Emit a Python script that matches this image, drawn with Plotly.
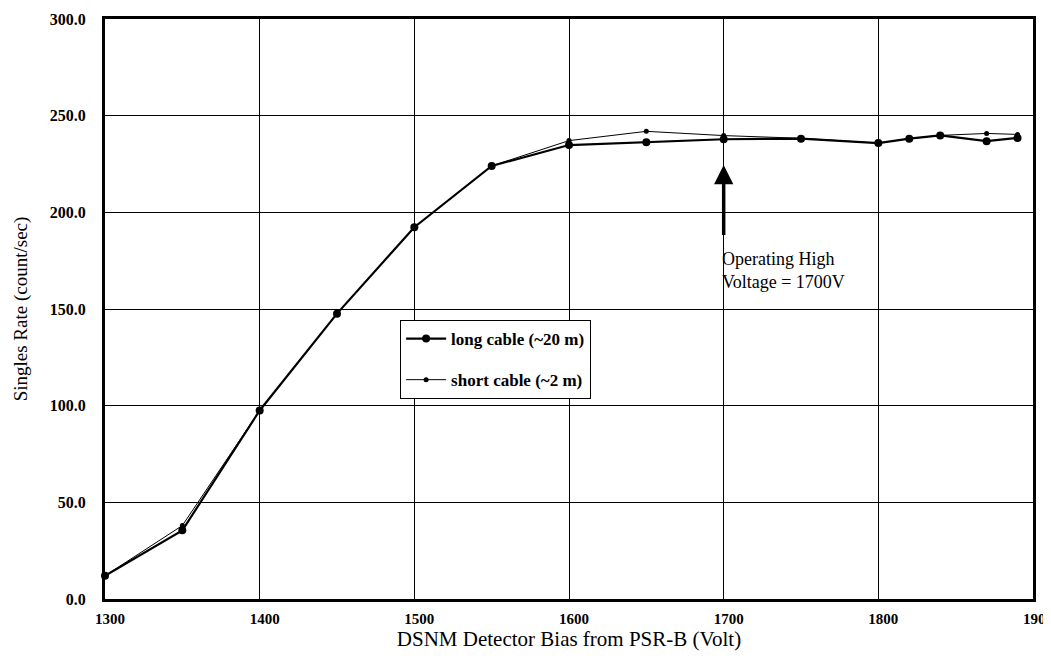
import plotly.graph_objects as go

voltage_long = [1300, 1350, 1400, 1450, 1500, 1550, 1600, 1650, 1700, 1750, 1800, 1820, 1840, 1870, 1890]
rate_long = [12.0, 35.5, 97.5, 147.6, 192.3, 224.0, 234.8, 236.3, 237.8, 238.1, 235.8, 238.1, 239.8, 236.8, 238.5]

voltage_short = [1300, 1350, 1400, 1450, 1500, 1550, 1600, 1650, 1700, 1750, 1800, 1820, 1840, 1870, 1890]
rate_short = [12.0, 38.0, 97.5, 147.6, 192.3, 224.0, 237.1, 241.9, 239.7, 238.3, 235.8, 238.1, 239.8, 240.8, 240.3]

x_ticks = [1300, 1400, 1500, 1600, 1700, 1800, 1900]
y_ticks = [0, 50, 100, 150, 200, 250, 300]

FONT = "Liberation Serif"

fig = go.Figure()
fig.add_trace(go.Scatter(
    x=voltage_long, y=rate_long, mode="lines+markers",
    name="<b>long cable (~20 m)</b>", legendgroup="a",
    line=dict(color="black", width=2.2),
    marker=dict(symbol="circle", size=8, color="black"),
    cliponaxis=False,
))
fig.add_trace(go.Scatter(
    x=voltage_short, y=rate_short, mode="lines+markers",
    name="<b>short cable (~2 m)</b>", legendgroup="b",
    line=dict(color="black", width=1),
    marker=dict(symbol="circle", size=5, color="black"),
    cliponaxis=False,
))

fig.add_annotation(
    x=1700, y=224.5, ax=1700, ay=187.5, xref="x", yref="y", axref="x", ayref="y",
    showarrow=True, arrowhead=2, arrowwidth=3.5, arrowsize=1.1, arrowcolor="black", text="",
)
fig.add_annotation(
    x=1700, y=182.0, xref="x", yref="y", xanchor="left", yanchor="top", align="left",
    showarrow=False, text="Operating High<br>Voltage = 1700V", xshift=-4,
    font=dict(family=FONT, size=18, color="black"),
)

fig.update_layout(
    width=1051, height=659,
    margin=dict(l=97, r=26, t=11, b=68),
    paper_bgcolor="white", plot_bgcolor="white",
    font=dict(family=FONT, color="black"),
    showlegend=True,
    legend=dict(
        x=0.318, y=0.481, xanchor="left", yanchor="top",
        bgcolor="white", bordercolor="black", borderwidth=1,
        font=dict(family=FONT, size=17, color="black"),
        tracegroupgap=16, itemwidth=40,
    ),
)
fig.update_xaxes(
    range=[1300, 1900], tickvals=x_ticks, ticktext=[f"<b>{v}</b>" for v in x_ticks],
    showgrid=True, gridcolor="black", gridwidth=1,
    showline=True, linecolor="black", linewidth=3, mirror=True,
    ticks="", ticklabelshift=5, ticklabelstandoff=4, automargin=False,
    tickfont=dict(family=FONT, size=15, color="black"),
    title=dict(text="DSNM Detector Bias from PSR-B (Volt)", font=dict(family=FONT, size=21, color="black"), standoff=4),
    zeroline=False,
)
fig.update_yaxes(
    range=[0, 300], tickvals=y_ticks, ticktext=[f"<b>{v:.1f}</b>" for v in y_ticks],
    showgrid=True, gridcolor="black", gridwidth=1,
    showline=True, linecolor="black", linewidth=3, mirror=True,
    ticks="", ticklabelstandoff=13, automargin=False,
    tickfont=dict(family=FONT, size=16, color="black"),
    title=dict(text="Singles Rate (count/sec)", font=dict(family=FONT, size=19, color="black"), standoff=18),
    zeroline=False,
)

fig.write_html("out.html")
